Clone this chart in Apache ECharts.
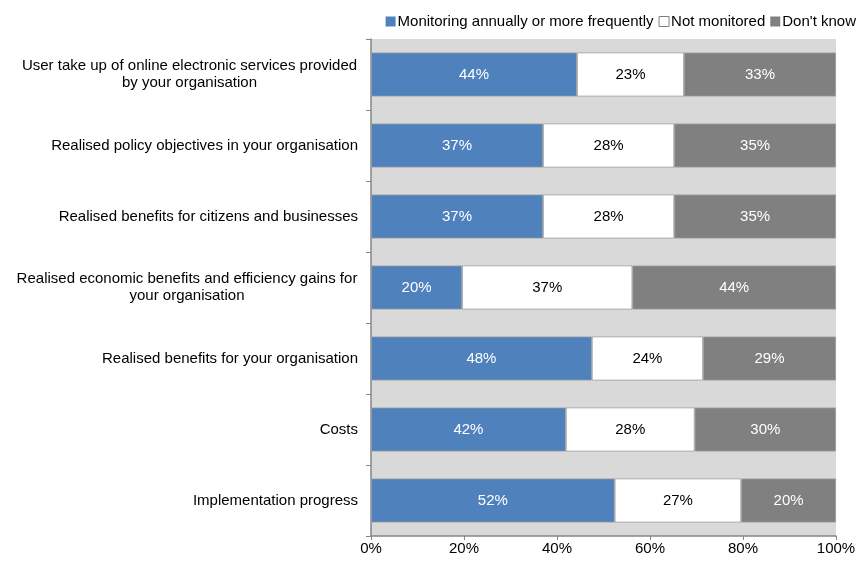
<!DOCTYPE html>
<html>
<head>
<meta charset="utf-8">
<script src="https://cdn.jsdelivr.net/npm/echarts@6/dist/echarts.min.js"></script>
<style>
  html, body { margin: 0; padding: 0; background: #fff; }
  #chart { width: 863px; height: 561px; }
</style>
</head>
<body>
<div id="chart"></div>
<script>
  // categories, top to bottom ('\n' marks the wrap point of long labels)
  var categories = [
    'User take up of online electronic services provided\nby your organisation',
    'Realised policy objectives in your organisation',
    'Realised benefits for citizens and businesses',
    'Realised economic benefits and efficiency gains for\nyour organisation',
    'Realised benefits for your organisation',
    'Costs',
    'Implementation progress'
  ]
  var seriesNames = ['Monitoring annually or more frequently', 'Not monitored', "Don't know"]
  var monitored = [44.3, 37.0, 37.0, 19.6, 47.5, 41.9, 52.4]
  var notMonitored = [23.0, 28.2, 28.2, 36.6, 23.9, 27.7, 27.2]
  var dontKnow = [32.7, 34.8, 34.8, 43.8, 28.6, 30.4, 20.4]
  var xTicks = [0, 20, 40, 60, 80, 100]

  var FONT = '"Liberation Sans", Arial, sans-serif'
  var FS = 15

  // long labels: lines centered inside a block that is right aligned to the axis
  var ctx = document.createElement('canvas').getContext('2d')
  ctx.font = FS + 'px ' + FONT
  var rich = {}
  categories.forEach(function (c, i) {
    var lines = c.split('\n')
    var w = Math.max.apply(null, lines.map(function (l) { return ctx.measureText(l).width }))
    rich['c' + i] = { width: Math.ceil(w) + 1, align: 'center', fontSize: FS, fontFamily: FONT, color: '#000', lineHeight: 17 }
  })

  var chart = echarts.init(document.getElementById('chart'))

  function barSeries (name, data, color, labelColor) {
    return {
      name: name,
      type: 'bar',
      stack: 'total',
      barCategoryGap: '38%',
      data: data,
      itemStyle: { color: color, borderColor: '#a0a0a0', borderWidth: 0.8 },
      label: {
        show: true,
        position: 'inside',
        color: labelColor,
        fontSize: FS,
        fontFamily: FONT,
        formatter: function (p) { return Math.round(p.value) + '%' }
      }
    }
  }

  chart.setOption({
    animation: false,
    legend: {
      top: 9,
      right: 2,
      icon: 'rect',
      itemWidth: 10,
      itemHeight: 10,
      itemGap: 5,
      textStyle: { fontSize: FS, fontFamily: FONT, color: '#000', padding: [0, 0, 0, -3] },
      data: seriesNames.map(function (n) {
        return {
          name: n,
          itemStyle: n === 'Not monitored' ? { borderColor: '#808080', borderWidth: 1 } : { borderWidth: 0 }
        }
      })
    },
    grid: {
      left: 371,
      right: 27,
      top: 39,
      bottom: 25,
      show: true,
      backgroundColor: '#d9d9d9',
      borderWidth: 0
    },
    xAxis: {
      type: 'value',
      min: 0,
      max: 100,
      interval: 20,
      splitLine: { show: false },
      axisLine: { show: true, lineStyle: { color: '#868686', width: 1.5 } },
      axisTick: { show: true, length: 4, lineStyle: { color: '#868686' } },
      axisLabel: {
        fontSize: FS,
        fontFamily: FONT,
        color: '#000',
        margin: 5,
        formatter: function (v) { return xTicks.indexOf(v) >= 0 ? v + '%' : '' }
      }
    },
    yAxis: {
      type: 'category',
      inverse: true,
      data: categories,
      axisLine: { show: true, lineStyle: { color: '#868686', width: 1.5 } },
      axisTick: { show: true, length: 5, lineStyle: { color: '#868686' } },
      axisLabel: {
        margin: 13,
        fontSize: FS,
        fontFamily: FONT,
        color: '#000',
        rich: rich,
        formatter: function (v, i) {
          if (v.indexOf('\n') < 0) return v
          return v.split('\n').map(function (l) { return '{c' + i + '|' + l + '}' }).join('\n')
        }
      }
    },
    series: [
      barSeries(seriesNames[0], monitored, '#4f81bd', '#fff'),
      barSeries(seriesNames[1], notMonitored, '#ffffff', '#000'),
      barSeries(seriesNames[2], dontKnow, '#808080', '#fff')
    ]
  })
</script>
</body>
</html>
